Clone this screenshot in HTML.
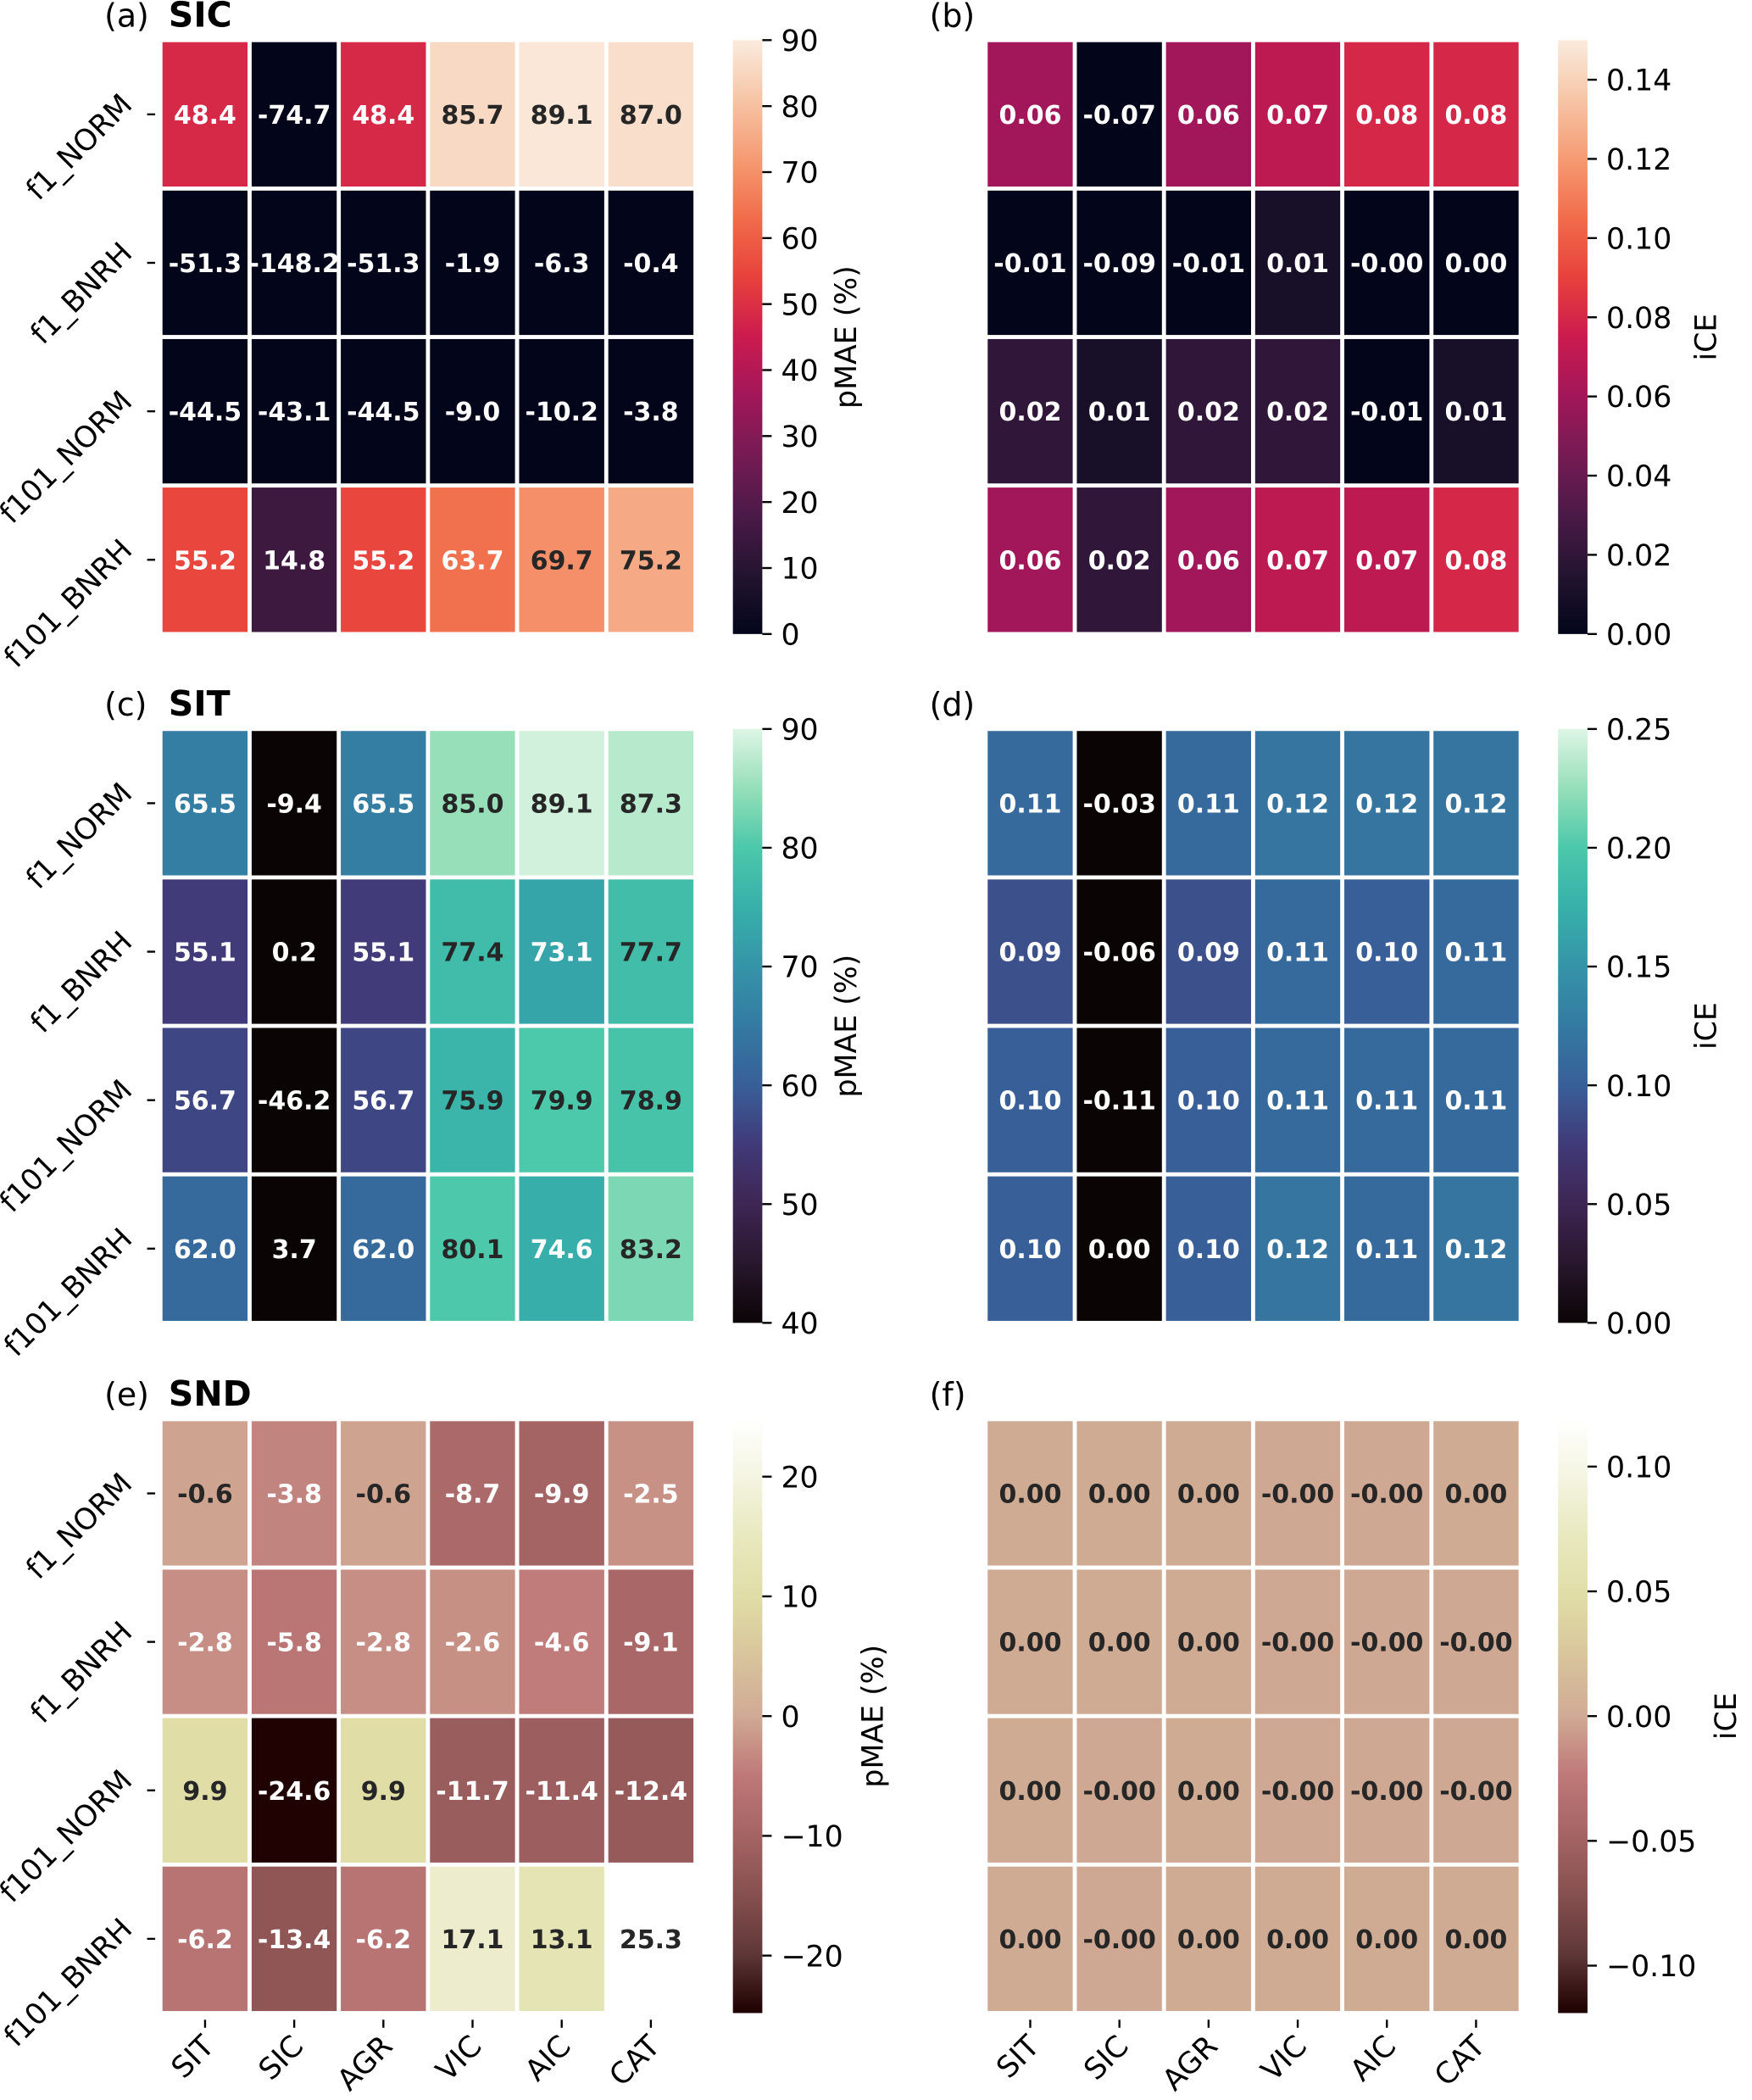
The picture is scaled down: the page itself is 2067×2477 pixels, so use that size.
<!DOCTYPE html>
<html><head><meta charset="utf-8"><style>
html,body{margin:0;padding:0;background:#fff;}
svg{display:block;font-family:"DejaVu Sans","Liberation Sans",sans-serif;}
</style></head><body>
<svg id="fig" width="2067" height="2477" viewBox="0 0 1310 1570" preserveAspectRatio="none" xmlns="http://www.w3.org/2000/svg"><defs id="defs"></defs></svg>
<script>
const rowLabels = ["f1_NORM","f1_BNRH","f101_NORM","f101_BNRH"];
const colLabels = ["SIT","SIC","AGR","VIC","AIC","CAT"];
const valsA = [[48.4,-74.7,48.4,85.7,89.1,87.0],[-51.3,-148.2,-51.3,-1.9,-6.3,-0.4],[-44.5,-43.1,-44.5,-9.0,-10.2,-3.8],[55.2,14.8,55.2,63.7,69.7,75.2]];
const valsB = [[0.06,-0.07,0.06,0.07,0.08,0.08],[-0.01,-0.09,-0.01,0.01,-0.001,0.00],[0.02,0.01,0.02,0.02,-0.01,0.01],[0.06,0.02,0.06,0.07,0.07,0.08]];
const valsC = [[65.5,-9.4,65.5,85.0,89.1,87.3],[55.1,0.2,55.1,77.4,73.1,77.7],[56.7,-46.2,56.7,75.9,79.9,78.9],[62.0,3.7,62.0,80.1,74.6,83.2]];
const valsD = [[0.11,-0.03,0.11,0.12,0.12,0.12],[0.09,-0.06,0.09,0.11,0.10,0.11],[0.10,-0.11,0.10,0.11,0.11,0.11],[0.10,0.00,0.10,0.12,0.11,0.12]];
const valsE = [[-0.6,-3.8,-0.6,-8.7,-9.9,-2.5],[-2.8,-5.8,-2.8,-2.6,-4.6,-9.1],[9.9,-24.6,9.9,-11.7,-11.4,-12.4],[-6.2,-13.4,-6.2,17.1,13.1,25.3]];
const valsF = [[0.001,0.001,0.001,-0.001,-0.001,0.001],[0.001,0.001,0.001,-0.001,-0.001,-0.001],[0.001,-0.001,0.001,-0.001,-0.001,-0.001],[0.001,-0.001,0.001,0.001,0.001,0.001]];
const ticksA = [0,10,20,30,40,50,60,70,80,90];
const ticksB = [0.00,0.02,0.04,0.06,0.08,0.10,0.12,0.14];
const ticksC = [40,50,60,70,80,90];
const ticksD = [0.00,0.05,0.10,0.15,0.20,0.25];
const ticksE = [-20,-10,0,10,20];
const ticksF = [-0.10,-0.05,0.00,0.05,0.10];

const rocket=[[3,5,26],[35,20,48],[75,26,72],[117,27,84],[161,23,89],[203,27,79],[232,65,60],[241,108,75],[245,155,115],[246,197,166],[250,235,221]];
const mako=[[11,4,5],[40,23,45],[62,38,84],[65,58,120],[56,95,152],[52,122,162],[53,148,168],[55,176,170],[76,200,170],[150,223,185],[222,245,229]];
const pink=[[30,0,0],[95,55,55],[135,80,80],[165,100,100],[190,120,120],[208,170,148],[216,196,156],[224,221,166],[232,232,190],[244,244,225],[255,255,255]];

function cmap(stops,t){t=Math.max(0,Math.min(1,t));const n=stops.length-1;const f=t*n;const i=Math.min(n-1,Math.floor(f));const u=f-i;
 return stops[i].map((c,k)=>Math.round(c+(stops[i+1][k]-c)*u));}
function lum(c){const l=c.map(v=>{v/=255;return v<=0.03928?v/12.92:Math.pow((v+0.055)/1.055,2.4)});return 0.2126*l[0]+0.7152*l[1]+0.0722*l[2];}
const NS="http://www.w3.org/2000/svg";const svg=document.getElementById('fig');const defs=document.getElementById('defs');
function el(tag,attrs,parent){const e=document.createElementNS(NS,tag);for(const k in attrs)e.setAttribute(k,attrs[k]);(parent||svg).appendChild(e);return e;}

const panels=[
 {id:"a",title:"SIC",vals:valsA,ticks:ticksA,vmin:0,vmax:90,stops:rocket,x0:120,y0:30,cb:"pMAE (%)",dec:1,td:0,cbx:548,lblx:640},
 {id:"b",title:"",vals:valsB,ticks:ticksB,vmin:0,vmax:0.15,stops:rocket,x0:737,y0:30,cb:"iCE",dec:2,td:2,cbx:1165,lblx:1283},
 {id:"c",title:"SIT",vals:valsC,ticks:ticksC,vmin:40,vmax:90,stops:mako,x0:120,y0:545,cb:"pMAE (%)",dec:1,td:0,cbx:548,lblx:640},
 {id:"d",title:"",vals:valsD,ticks:ticksD,vmin:0,vmax:0.25,stops:mako,x0:737,y0:545,cb:"iCE",dec:2,td:2,cbx:1165,lblx:1283},
 {id:"e",title:"SND",vals:valsE,ticks:ticksE,vmin:-24.8,vmax:24.8,stops:pink,x0:120,y0:1061,cb:"pMAE (%)",dec:1,td:0,cbx:548,lblx:660},
 {id:"f",title:"",vals:valsF,ticks:ticksF,vmin:-0.119,vmax:0.119,stops:pink,x0:737,y0:1061,cb:"iCE",dec:2,td:2,cbx:1165,lblx:1298}
];
const W=400,H=444,cw=W/6,rh=H/4;
panels.forEach(p=>{
 const g=el('g',{});
 
 
 const t=el('text',{x:p.x0-42,y:p.y0-10,'font-size':24},g);
 t.textContent='('+p.id+')';
 
 
 if(p.title){const tt=el('text',{x:p.x0+6,y:p.y0-10,'font-size':26,'font-weight':'bold'},g);tt.textContent=p.title;
  
  }
 const ys=v=>p.y0+H-(v-p.vmin)/(p.vmax-p.vmin)*H;
 p.vals.forEach((row,r)=>row.forEach((v,c)=>{
  const col=cmap(p.stops,(v-p.vmin)/(p.vmax-p.vmin));
  const rect=el('rect',{x:p.x0+c*cw,y:p.y0+r*rh,width:cw,height:rh,fill:`rgb(${col})`,stroke:'#fff','stroke-width':3},g);
  
  
  const tx=el('text',{x:p.x0+c*cw+cw/2,y:p.y0+r*rh+rh/2+7,'font-size':19,'font-weight':'bold','text-anchor':'middle',fill:lum(col)>0.36?'#262626':'#fff'},g);
  tx.textContent=v.toFixed(p.dec);
  
  
 }));
 if(p.id==='a'||p.id==='c'||p.id==='e'){
  rowLabels.forEach((lab,r)=>{const y=p.y0+r*rh+rh/2;
   el('line',{x1:p.x0-10,x2:p.x0-4,y1:y,y2:y,stroke:'#000','stroke-width':1.5},g);
   const lt=el('text',{x:p.x0-20,y:y-6,'font-size':22,'text-anchor':'end',transform:`rotate(-45 ${p.x0-20} ${y-6})`},g);
   lt.textContent=lab;
   
   });
 }
 if(p.id==='e'||p.id==='f'){
  colLabels.forEach((lab,c)=>{const x=p.x0+c*cw+cw/2;const yb=p.y0+H;
   el('line',{x1:x,x2:x,y1:yb+5,y2:yb+11,stroke:'#000','stroke-width':1.5},g);
   const lt=el('text',{x:x+8,y:yb+26,'font-size':22,'text-anchor':'end',transform:`rotate(-45 ${x+8} ${yb+26})`},g);
   lt.textContent=lab;
   
   });
 }
 const gid='grad'+p.id;const lg=el('linearGradient',{id:gid,x1:0,y1:1,x2:0,y2:0},defs);
 p.stops.forEach((s,i)=>el('stop',{offset:i/(p.stops.length-1),'stop-color':`rgb(${s})`},lg));
 const cb=el('rect',{x:p.cbx,y:p.y0,width:22,height:H,fill:`url(#${gid})`},g);
 
 
 p.ticks.forEach(tv=>{const y=ys(tv);
  el('line',{x1:p.cbx+22,x2:p.cbx+29,y1:y,y2:y,stroke:'#000','stroke-width':1.5},g);
  const lt=el('text',{x:p.cbx+36,y:y+8,'font-size':22},g);
  lt.textContent=tv.toFixed(p.td).replace('-','\u2212');
  
  });
 const cy=p.y0+H/2;
 const cl=el('text',{x:p.lblx,y:cy,'font-size':22,'text-anchor':'middle',transform:`rotate(-90 ${p.lblx} ${cy})`},g);
 cl.textContent=p.cb;
 
 
});
</script>
</body></html>
